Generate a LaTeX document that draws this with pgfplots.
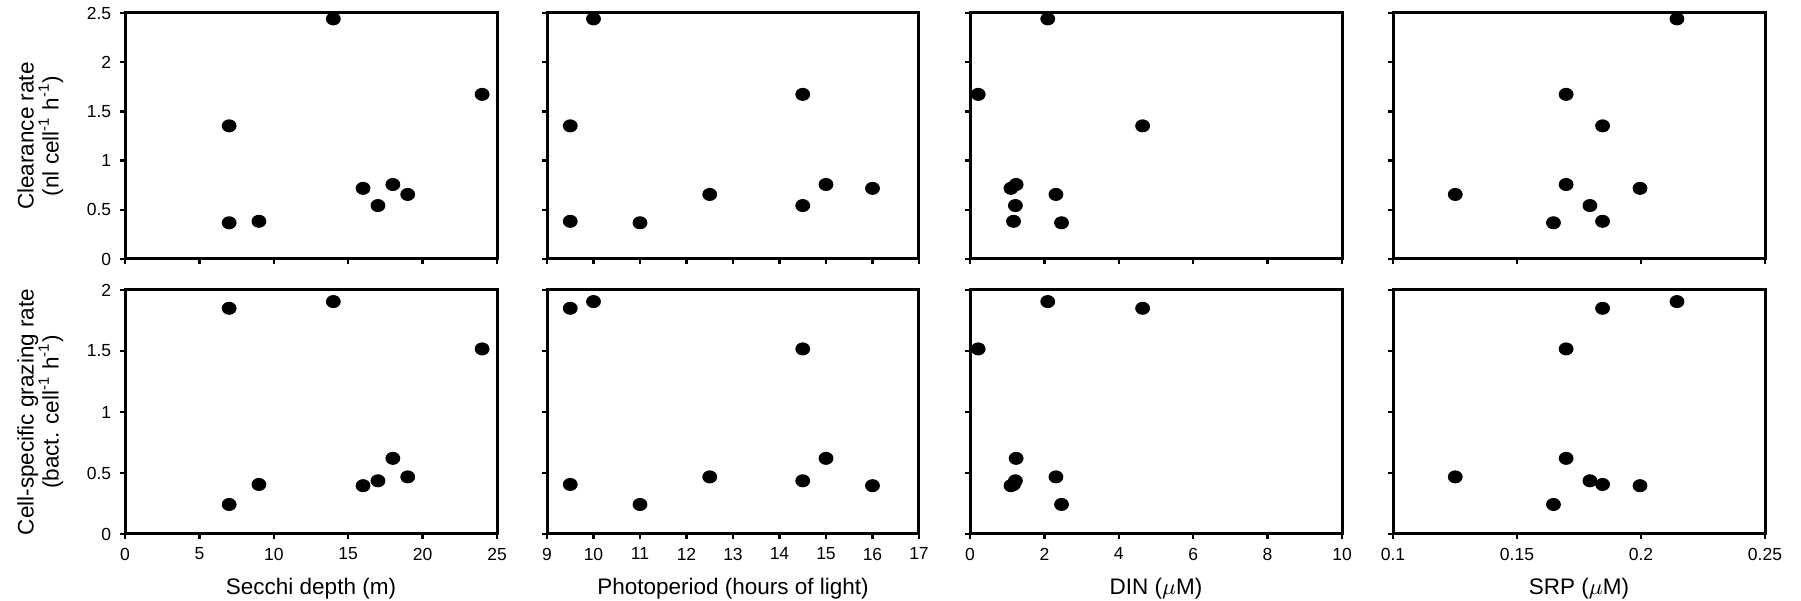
\documentclass[border=0pt]{standalone}
\usepackage{fontspec}
\setmainfont{Liberation Sans}
\usepackage{pgfplots}
\usepackage{pgfplotstable}
\pgfplotsset{compat=1.18}
\pgfplotstableread{
secchi photo din srp cr gr
7 9.5 4.64 0.1845 1.353 1.85
7 11 2.46 0.1647 0.368 0.242
9 9.5 1.17 0.1845 0.383 0.406
14 10 2.09 0.2145 2.44 1.905
16 16 1.10 0.1996 0.718 0.396
17 14.5 1.22 0.1794 0.543 0.436
18 15 1.24 0.1698 0.757 0.62
19 12.5 2.31 0.1251 0.656 0.468
24 14.5 0.22 0.1698 1.673 1.517
}\data
\pgfplotsset{
  panel/.style={
    scale only axis, width=148.8pt, anchor=south west,
    axis line style={line width=1.2pt},
    tick style={line width=0.9pt, black},
    major tick length=2pt,
    tick align=outside,
    xtick pos=bottom, ytick pos=left,
    ticklabel style={font=\fontsize{7}{8}\selectfont},
    /pgf/number format/assume math mode=true,
    label style={font=\fontsize{9}{10}\selectfont},
    xlabel style={at={(axis description cs:0.5,0)}, anchor=center, yshift=-22pt},
    ylabel style={at={(axis description cs:-0.228,0.5)}, anchor=center, align=center},
  },
  toprow/.style={panel, height=98.4pt, ymin=0, ymax=2.5, ytick={0,0.5,...,2.5}, xticklabel=\empty},
  botrow/.style={panel, height=97.6pt, ymin=0, ymax=2, ytick={0,0.5,...,2}},
  noy/.style={yticklabel=\empty},
  c1/.style={xmin=0, xmax=25, xtick={0,5,...,25}},
  c2/.style={xmin=9, xmax=17, xtick={9,10,...,17}},
  c3/.style={xmin=0, xmax=10, xtick={0,2,...,10}},
  c4/.style={xmin=0.1, xmax=0.25, xtick={0.1,0.15,0.2,0.25}},
  dots/.style={only marks, mark=*, mark size=2.4pt, mark options={fill=black, draw=black, xscale=1.15}},
}
\begin{document}
\begin{tikzpicture}
\useasboundingbox (0,0) rectangle (720.4pt,240.4pt);
% top row
\begin{axis}[toprow, c1, at={(50pt,136.8pt)},
  ylabel={Clearance rate\\(nl cell\textsuperscript{-1} h\textsuperscript{-1})}]
\addplot[dots] table[x=secchi, y=cr] {\data};
\end{axis}
\begin{axis}[toprow, c2, noy, at={(218.8pt,136.8pt)}]
\addplot[dots] table[x=photo, y=cr] {\data};
\end{axis}
\begin{axis}[toprow, c3, noy, at={(388pt,136.8pt)}]
\addplot[dots] table[x=din, y=cr] {\data};
\end{axis}
\begin{axis}[toprow, c4, noy, at={(557.2pt,136.8pt)}]
\addplot[dots] table[x=srp, y=cr] {\data};
\end{axis}
% bottom row
\begin{axis}[botrow, c1, at={(50pt,26.8pt)},
  ylabel={Cell-specific grazing rate\\(bact. cell\textsuperscript{-1} h\textsuperscript{-1})},
  xlabel={Secchi depth (m)}]
\addplot[dots] table[x=secchi, y=gr] {\data};
\end{axis}
\begin{axis}[botrow, c2, noy, at={(218.8pt,26.8pt)}, xlabel={Photoperiod (hours of light)}]
\addplot[dots] table[x=photo, y=gr] {\data};
\end{axis}
\begin{axis}[botrow, c3, noy, at={(388pt,26.8pt)}, xlabel={DIN ($\mu$M)}]
\addplot[dots] table[x=din, y=gr] {\data};
\end{axis}
\begin{axis}[botrow, c4, noy, at={(557.2pt,26.8pt)}, xlabel={SRP ($\mu$M)}]
\addplot[dots] table[x=srp, y=gr] {\data};
\end{axis}
\end{tikzpicture}
\end{document}
